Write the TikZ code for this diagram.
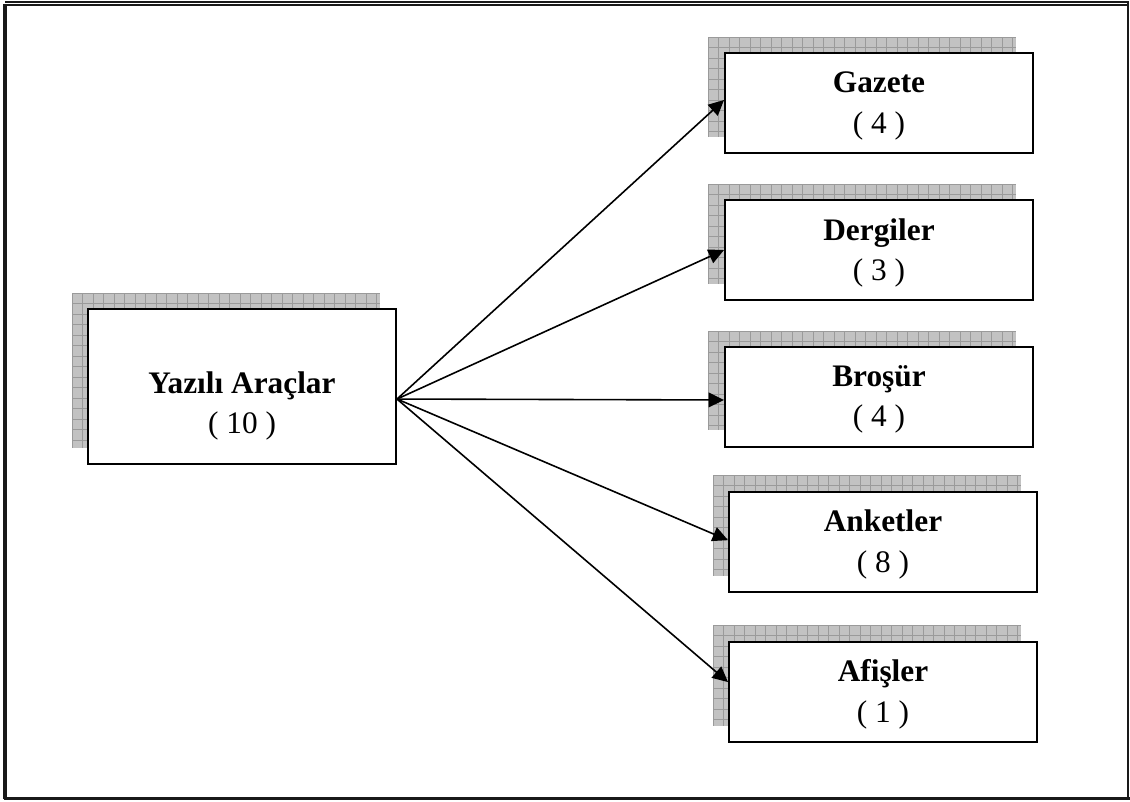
\documentclass[tikz,border=0pt]{standalone}
\usepackage{fontspec}
\setmainfont{Liberation Serif}
\usetikzlibrary{arrows.meta}
\definecolor{shadefill}{HTML}{C2C2C2}
\definecolor{shadeline}{HTML}{9A9A9A}
% hatched drop shadow: corners (x1,y1) and (x2,y2), in pixel units
\newcommand\gridshadow[4]{%
  \fill[shadefill] (#1,#2) rectangle (#3,#4);
  \begin{scope}
    \clip (#1,#2) rectangle (#3,#4);
    \foreach \k in {0,...,30}{\draw[shadeline,line width=0.45pt] ({#1+\k*10.5},#2) -- ({#1+\k*10.5},#4);}
    \foreach \k in {0,...,15}{\draw[shadeline,line width=0.45pt] (#1,{#2+\k*10.5}) -- (#3,{#2+\k*10.5});}
  \end{scope}}
\tikzset{
  box/.style={draw=black, fill=white, line width=1.5pt, minimum width=231pt, minimum height=75pt, inner sep=0pt},
  lbl/.style={align=center, font=\fontsize{23.5}{30.5}\selectfont, inner sep=0pt},
  link/.style={line width=1.2pt, -{Triangle[length=11.5pt,width=11pt]}},
  frameline/.style={line width=#1, black!90}
}
\begin{document}
\begin{tikzpicture}[x=0.75pt,y=-0.75pt]
\useasboundingbox (0,0) rectangle (1130,801);
% page frame
\draw[frameline=1.3pt] (5,1.8) -- (1129,1.8);
\draw[frameline=1.3pt] (5,5) -- (1128,5);
\draw[frameline=3pt] (5.3,4) -- (5.3,799);
\draw[frameline=2pt] (1128,1) -- (1128,799);
\draw[frameline=2.1pt] (3.5,798.7) -- (1129.5,798.7);

% shadows
\gridshadow{72}{293}{380}{448}
\gridshadow{708}{37}{1016}{137}
\gridshadow{708}{184}{1016}{284}
\gridshadow{708}{331}{1016}{430}
\gridshadow{713}{475}{1021}{576}
\gridshadow{713}{625}{1021}{726}

% boxes
\node[box, minimum height=116.25pt] (main) at (242,386.5) {};
\node[box] (gaz) at (879,103) {};
\node[box] (der) at (879,250) {};
\node[box] (bro) at (879,396.5) {};
\node[box] (ank) at (883,541.5) {};
\node[box] (afi) at (883,691.5) {};

% labels
\node[lbl] (main-t) at ([yshift=-14.6pt]main.center) {\textbf{Yazılı Araçlar}\\( 10 )};
\node[lbl] (gaz-t) at ([yshift=-2.25pt]gaz.center) {\textbf{Gazete}\\( 4 )};
\node[lbl] (der-t) at ([yshift=-2.25pt]der.center) {\textbf{Dergiler}\\( 3 )};
\node[lbl] (bro-t) at ([yshift=-2.25pt]bro.center) {\textbf{Broşür}\\( 4 )};
\node[lbl] (ank-t) at ([yshift=-2.25pt]ank.center) {\textbf{Anketler}\\( 8 )};
\node[lbl] (afi-t) at ([yshift=-2.25pt]afi.center) {\textbf{Afişler}\\( 1 )};

% connectors
\coordinate (src) at ([yshift=-9.4pt]main.east);
\draw[link] (src) -- ([yshift=2.25pt]gaz.west);
\draw[link] (src) -- (der.west);
\draw[link] (src) -- ([yshift=-2.6pt]bro.west);
\draw[link] (src) -- ([yshift=1pt]ank.west);
\draw[link] (src) -- ([yshift=7.1pt]afi.west);
\end{tikzpicture}
\end{document}
